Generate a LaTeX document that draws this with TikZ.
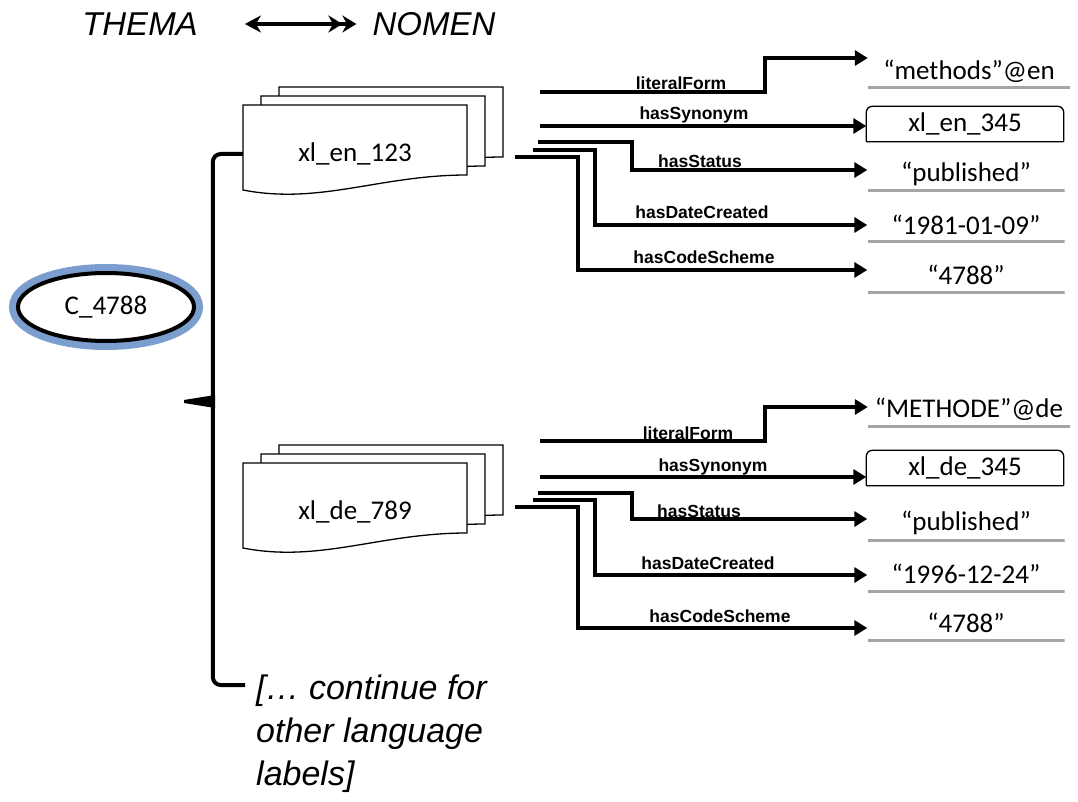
\documentclass[tikz,border=0pt]{standalone}
\usepackage{fontspec}
\setmainfont{Carlito}
\newfontfamily\arialfont{Liberation Sans}
\usetikzlibrary{arrows.meta,shapes.geometric}
\definecolor{ringblue}{RGB}{124,158,206}
\definecolor{rulegray}{RGB}{165,165,165}

\begin{document}
\begin{tikzpicture}[
    x=1pt,
    y=-1pt,
    head/.style={
        inner sep=0pt,
        font=\arialfont\itshape\fontsize{33}{38}\selectfont
    },
    concept/.style={
        ellipse,
        draw=black,
        line width=4pt,
        fill=white,
        minimum width=176pt,
        minimum height=68pt,
        preaction={draw=ringblue, line width=18pt},
        font=\fontsize{27}{32}\selectfont
    },
    doctext/.style={
        minimum width=224pt,
        minimum height=60pt,
        inner sep=0pt,
        font=\fontsize{27}{32}\selectfont
    },
    page/.style={
        draw=black,
        line width=1.3pt,
        fill=white
    },
    prop/.style={
        anchor=base,
        inner sep=0pt,
        font=\arialfont\bfseries\fontsize{17.5}{20}\selectfont
    },
    value/.style={
        minimum width=197pt,
        minimum height=36pt,
        inner sep=0pt,
        font=\fontsize{27}{32}\selectfont,
        path picture={\draw[rulegray, line width=5pt]
            (path picture bounding box.south west) -- (path picture bounding box.south east);}
    },
    synval/.style={
        minimum width=197pt,
        minimum height=35pt,
        inner sep=0pt,
        font=\fontsize{27}{32}\selectfont
    },
    note/.style={
        anchor=north west,
        align=left,
        inner sep=0pt,
        font=\arialfont\itshape\fontsize{34}{43}\selectfont
    },
    rel/.style={
        -{Triangle[length=13pt,width=15pt]},
        line width=4.5pt
    },
    brace/.style={
        line width=4pt,
        rounded corners=8pt
    }
]
\useasboundingbox (0,0) rectangle (1078,802);

% Header
\node[head] (thema) at (140,24) {THEMA};
\node[head] (nomen) at (434,24) {NOMEN};
\draw[{Stealth[length=16pt,width=17pt]}-{Stealth[length=14pt,width=17pt]Stealth[length=14pt,width=17pt]}, line width=4pt]
    ([xshift=47pt]thema.east) -- ([xshift=-16pt]nomen.west);

% Concept
\node[concept] (c4788) at (106,307) {C\_4788};

% Label stacks
\foreach \d in {2,1,0}
    \draw[page, shift={(18*\d,-9*\d)}] (243,105) -- (467,105) -- (467,175)
        .. controls (380,175) and (320,205) .. (243,190) -- cycle;
\node[doctext] (en) at (355,154) {xl\_en\_123};

\foreach \d in {2,1,0}
    \draw[page, shift={(18*\d,-9*\d)}] (243,463) -- (467,463) -- (467,533)
        .. controls (380,533) and (320,563) .. (243,548) -- cycle;
\node[doctext] (de) at (355,512) {xl\_de\_789};

% Brace
\coordinate (more) at (245,685);
\draw[brace] (en.west) -- ++(-30,0) |- (more);
\fill (215,395) -- (184,400) -- (184,403) -- (215,408) -- cycle;
\node[note] (moretext) at (256,675) {[\ldots{} continue for\\other language\\labels]};

% English values
\node[value, minimum width=202pt] (en-lit) at (969,71) {“methods”@en};
\node[synval] (en-syn) at (965,124) {xl\_en\_345};
\node[value] (en-stat) at (966,174) {“published”};
\node[value] (en-date) at (966,225) {“1981-01-09”};
\node[value] (en-code) at (966,275) {“4788”};
\draw[line width=1.3pt, rounded corners=6pt] (en-syn.south west) -- (en-syn.north west)
    -- (en-syn.north east) -- (en-syn.south east) (en-syn.south west) -- (en-syn.south east);

% English relations
\coordinate (en-s1) at (540,92);
\coordinate (en-s2) at (540,126);
\coordinate (en-s3) at (538,142);
\coordinate (en-s4) at (533,150);
\coordinate (en-s5) at (515,157);
\draw[rel] (en-s1) -- ++(225,0) |- ([yshift=13pt]en-lit.west);
\draw[rel] (en-s2) -- (en-s2 -| en-syn.west);
\draw[rel] (en-s3) -- ++(94,0) |- ([yshift=4pt]en-stat.west);
\draw[rel] (en-s4) -- ++(62,0) |- (en-date.west);
\draw[rel] (en-s5) -- ++(63,0) |- ([yshift=5pt]en-code.west);
\node[prop] (en-p1) at (681,90) {literalForm};
\node[prop] (en-p2) at (694,120) {hasSynonym};
\node[prop] (en-p3) at (700,168) {hasStatus};
\node[prop] (en-p4) at (702,219) {hasDateCreated};
\node[prop] (en-p5) at (704,264) {hasCodeScheme};

% German values
\node[value, minimum width=202pt] (de-lit) at (969,409) {“METHODE”@de};
\node[synval] (de-syn) at (965,468) {xl\_de\_345};
\node[value] (de-stat) at (966,523) {“published”};
\node[value] (de-date) at (966,574) {“1996-12-24”};
\node[value] (de-code) at (966,623) {“4788”};
\draw[line width=1.3pt, rounded corners=6pt] (de-syn.south west) -- (de-syn.north west)
    -- (de-syn.north east) -- (de-syn.south east) (de-syn.south west) -- (de-syn.south east);

% German relations
\coordinate (de-s1) at (540,441);
\coordinate (de-s2) at (540,477);
\coordinate (de-s3) at (538,493);
\coordinate (de-s4) at (533,500);
\coordinate (de-s5) at (515,507);
\draw[rel] (de-s1) -- ++(225,0) |- ([yshift=2pt]de-lit.west);
\draw[rel] (de-s2) -- (de-s2 -| de-syn.west);
\draw[rel] (de-s3) -- ++(94,0) |- ([yshift=4pt]de-stat.west);
\draw[rel] (de-s4) -- ++(62,0) |- ([yshift=-1pt]de-date.west);
\draw[rel] (de-s5) -- ++(63,0) |- ([yshift=-5pt]de-code.west);
\node[prop] (de-p1) at (688,439) {literalForm};
\node[prop] (de-p2) at (713,471) {hasSynonym};
\node[prop] (de-p3) at (699,517) {hasStatus};
\node[prop] (de-p4) at (708,569) {hasDateCreated};
\node[prop] (de-p5) at (720,622) {hasCodeScheme};

\end{tikzpicture}
\end{document}
